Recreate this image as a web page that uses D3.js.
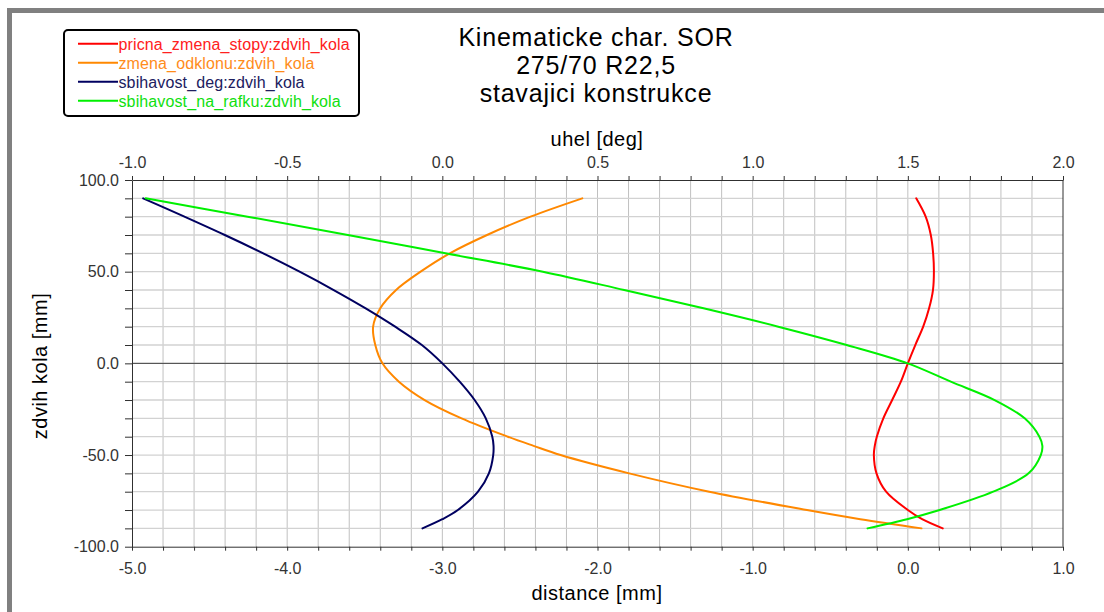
<!DOCTYPE html>
<html><head><meta charset="utf-8">
<script src="https://cdn.jsdelivr.net/npm/d3@7"></script>
<style>
html,body{margin:0;padding:0;background:#fff;}
svg{display:block;font-family:"Liberation Sans",Arial,sans-serif;}
</style></head><body>
<svg id="chart" width="1104" height="612"></svg>
<script>
// ---- data ----
const zdvihKola = [90, 80, 70, 60, 50, 40, 30, 20, 10, 0, -10, -20, -30, -40, -45, -50, -60, -70, -80, -85, -90];
// distance [mm] (bottom axis)
const pricnaZmenaStopy = [0.054, 0.115, 0.148, 0.163, 0.168, 0.162, 0.137, 0.099, 0.048, 0.0, -0.045, -0.101, -0.158, -0.200, -0.213, -0.219, -0.202, -0.140, 0.0, 0.092, 0.225];
// uhel [deg] (top axis)
const zmenaOdklonu = [0.451, 0.284, 0.144, 0.024, -0.070, -0.149, -0.200, -0.223, -0.216, -0.193, -0.140, -0.057, 0.062, 0.211, 0.294, 0.381, 0.602, 0.860, 1.175, 1.347, 1.544];
// uhel [deg] (top axis)
const sbihavostDeg = [-0.964, -0.831, -0.701, -0.577, -0.460, -0.350, -0.247, -0.152, -0.066, 0.0, 0.056, 0.104, 0.140, 0.161, 0.165, 0.164, 0.150, 0.115, 0.050, 0.0, -0.064];
// distance [mm] (bottom axis)
const sbihavostNaRafku = [-4.912, -4.255, -3.609, -2.980, -2.352, -1.828, -1.317, -0.835, -0.394, 0.0, 0.277, 0.559, 0.753, 0.848, 0.867, 0.857, 0.778, 0.550, 0.205, -0.005, -0.260];

const seriesNames = ["pricna_zmena_stopy:zdvih_kola", "zmena_odklonu:zdvih_kola", "sbihavost_deg:zdvih_kola", "sbihavost_na_rafku:zdvih_kola"];
const seriesAxis = ["distance", "angle", "angle", "distance"];
const titleLines = ["Kinematicke char. SOR", "275/70 R22,5", "stavajici konstrukce"];
const distanceLabels = [-5, -4, -3, -2, -1, 0, 1];
const angleLabels = [-1, -0.5, 0, 0.5, 1, 1.5, 2];
const travelLabels = [-100, -50, 0, 50, 100];
const xTitle = "distance [mm]";
const x2Title = "uhel [deg]";
const yTitle = "zdvih kola [mm]";

// ---- styles ----
const seriesValues = [pricnaZmenaStopy, zmenaOdklonu, sbihavostDeg, sbihavostNaRafku];
const seriesColors = ["#ff0000", "#ff8800", "#000060", "#00f000"];
const textColors = ["#ff2020", "#ff8c1a", "#202060", "#10e010"];

const svg = d3.select("#chart");
const L = 132, R = 1063, T = 180, B = 546.7;

const xDist = d3.scaleLinear().domain([-5, 1]).range([L, R]);
const xDeg = d3.scaleLinear().domain([-1, 2]).range([L, R]);
const yT = d3.scaleLinear().domain([-100, 100]).range([B, T]);

const fmt = v => (Math.abs(v) < 1e-9 ? 0 : v).toFixed(1);
const near = (v, arr) => arr.some(a => Math.abs(a - v) < 1e-6);

// outer frame
svg.append("rect").attr("x", 7).attr("y", 8).attr("width", 1097).attr("height", 5).attr("fill", "#808080");
svg.append("rect").attr("x", 7).attr("y", 8).attr("width", 5).attr("height", 604).attr("fill", "#808080");

// grid
const distTicks = d3.range(0, 31).map(i => +(-5 + i * 0.2).toFixed(1));
const angTicks = d3.range(0, 31).map(i => +(-1 + i * 0.1).toFixed(1));
const travTicks = d3.range(0, 21).map(i => -100 + i * 10);

const grid = svg.append("g");
grid.selectAll("line.v").data(distTicks.slice(1, -1)).join("line")
  .attr("x1", d => xDist(d)).attr("x2", d => xDist(d)).attr("y1", T).attr("y2", B)
  .attr("stroke", "#c0c0c0").attr("stroke-width", 1);
grid.selectAll("line.h").data(travTicks.slice(1, -1)).join("line")
  .attr("x1", L).attr("x2", R).attr("y1", d => yT(d)).attr("y2", d => yT(d))
  .attr("stroke", "#d2d2d2").attr("stroke-width", 1.3);

// zero line
svg.append("line").attr("x1", L).attr("x2", R).attr("y1", yT(0)).attr("y2", yT(0))
  .attr("stroke", "#404040").attr("stroke-width", 1);

// axes
function styleAxis(g) {
  g.selectAll("path.domain").attr("stroke", "#303030");
  g.selectAll(".tick line").attr("stroke", "#303030");
  g.selectAll(".tick text").attr("fill", "#333").style("font-size", "16px").style("font-family", '"Liberation Sans",Arial,sans-serif');
}
svg.append("g").attr("transform", `translate(0,${B})`)
  .call(d3.axisBottom(xDist).tickValues(distTicks).tickSize(4).tickSizeOuter(0).tickPadding(12)
    .tickFormat(v => near(v, distanceLabels) ? fmt(v) : ""))
  .call(styleAxis);
svg.append("g").attr("transform", `translate(0,${T})`)
  .call(d3.axisTop(xDeg).tickValues(angTicks).tickSize(4).tickSizeOuter(0).tickPadding(8)
    .tickFormat(v => near(v, angleLabels) ? fmt(v) : ""))
  .call(styleAxis);
svg.append("g").attr("transform", `translate(${L},0)`)
  .call(d3.axisLeft(yT).tickValues(travTicks).tickSize(7).tickSizeOuter(0).tickPadding(6)
    .tickFormat(v => near(v, travelLabels) ? fmt(v) : ""))
  .call(styleAxis);
// right border
svg.append("line").attr("x1", R).attr("x2", R).attr("y1", T).attr("y2", B).attr("stroke", "#303030");

// series
const line = d3.line().curve(d3.curveCatmullRom.alpha(0.5));
seriesValues.forEach((vals, i) => {
  const xs = seriesAxis[i] === "distance" ? xDist : xDeg;
  const pts = vals.map((v, j) => [xs(v), yT(zdvihKola[j])]);
  svg.append("path").attr("d", line(pts)).attr("fill", "none")
    .attr("stroke", seriesColors[i]).attr("stroke-width", 2)
    .attr("stroke-linejoin", "round").attr("stroke-linecap", "round");
});

// axis titles
const axisTitleStyle = t => t.style("font-size", "20px").style("letter-spacing", "0.5px").attr("fill", "#000");
svg.append("text").attr("x", 597).attr("y", 146).attr("text-anchor", "middle").call(axisTitleStyle).text(x2Title);
svg.append("text").attr("x", 597).attr("y", 600).attr("text-anchor", "middle").call(axisTitleStyle).text(xTitle);
svg.append("text").attr("transform", "translate(47,366) rotate(-90)").attr("text-anchor", "middle").call(axisTitleStyle).text(yTitle);

// title
svg.append("g").selectAll("text").data(titleLines).join("text")
  .attr("x", 596).attr("y", (d, i) => 45.7 + i * 28).attr("text-anchor", "middle")
  .style("font-size", "25px").style("letter-spacing", "0.8px").attr("fill", "#000").text(d => d);

// legend
const lg = svg.append("g");
lg.append("rect").attr("x", 64).attr("y", 30).attr("width", 295).attr("height", 86).attr("rx", 4)
  .attr("fill", "#fff").attr("stroke", "#000").attr("stroke-width", 2);
seriesNames.forEach((n, i) => {
  const y = 43.7 + i * 19;
  lg.append("line").attr("x1", 78).attr("x2", 118).attr("y1", y).attr("y2", y)
    .attr("stroke", seriesColors[i]).attr("stroke-width", 2);
  lg.append("text").attr("x", 118.5).attr("y", y + 6).style("font-size", "16px").style("letter-spacing", "0.12px")
    .attr("fill", textColors[i]).text(n);
});
</script>
</body></html>
